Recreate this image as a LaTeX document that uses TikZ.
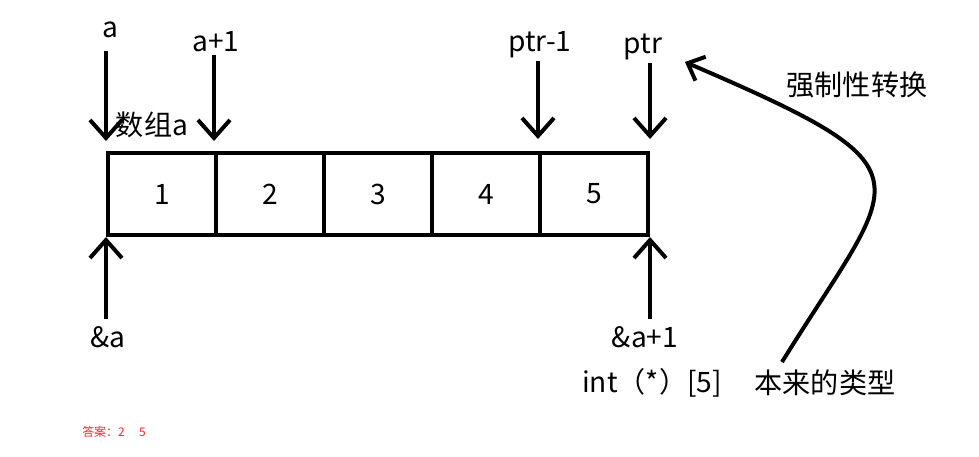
\documentclass[tikz,border=0pt]{standalone}
\usepackage{fontspec}
\setmainfont{Noto Sans CJK SC}
\usetikzlibrary{arrows.meta}

\begin{document}
\begin{tikzpicture}[x=0.025cm, y=-0.025cm,
    ptr/.style={line width=0.1cm, -{Straight Barb[length=0.45cm, width=0.8cm]}},
    cell/.style={draw, line width=0.1cm, minimum width=2.7cm, minimum height=2.05cm, inner sep=0pt},
    lab/.style={font=\fontsize{20}{24}\selectfont, inner sep=2pt}]
    \useasboundingbox (0,0) rectangle (979,456);
    % the array
    \node[cell, lab] (c1) at (162,194) {1};
    \node[cell, lab] (c2) at (270,194) {2};
    \node[cell, lab] (c3) at (378,194) {3};
    \node[cell, lab] (c4) at (486,194) {4};
    \node[cell, lab] (c5) at (594,194) {5};
    \node[lab] (name) at (152,125) {数组a};
    % pointers above
    \node[lab] (la) at (110,30) {a};
    \node[lab] (la1) at (216,42) {a+1};
    \node[lab] (lp1) at (540,45) {ptr-1};
    \node[lab] (lp) at (643,47) {ptr};
    \draw[ptr, shorten <=0.25cm, shorten >=0.25cm] (c1.north west |- la.south) -- (c1.north west);
    \draw[ptr, shorten >=0.25cm] (c2.north west |- la1.south) -- (c2.north west);
    \draw[ptr, shorten >=0.3cm] (c5.north west |- lp1.south) -- (c5.north west);
    \draw[ptr, shorten >=0.3cm] (c5.north east |- lp.south) -- (c5.north east);
    % pointers below
    \node[lab] (ra) at (108,337) {\&a};
    \node[lab] (ra1) at (645,337) {\&a+1};
    \draw[ptr, shorten <=0.1cm] (c1.south west |- ra.north) -- (c1.south west);
    \draw[ptr, shorten <=0.1cm] (c5.south east |- ra1.north) -- (c5.south east);
    % types
    \node[lab] (type) at (652,383) {int（*）[5]};
    \node[lab] (orig) at (825,383) {本来的类型};
    \node[lab] (cast) at (857,85) {强制性转换};
    \coordinate (cs) at (782,362);
    \coordinate (ce) at (685,62);
    \draw[ptr, -{Straight Barb[length=0.35cm, width=0.65cm]}] (cs) .. controls (899,173) and (941,172) .. (ce);
    % answer
    \node[font=\fontsize{8.5}{10}\selectfont, text=red!85!white] (ans) at (114,432) {答案：2\hspace{1.2em}5};
\end{tikzpicture}
\end{document}
